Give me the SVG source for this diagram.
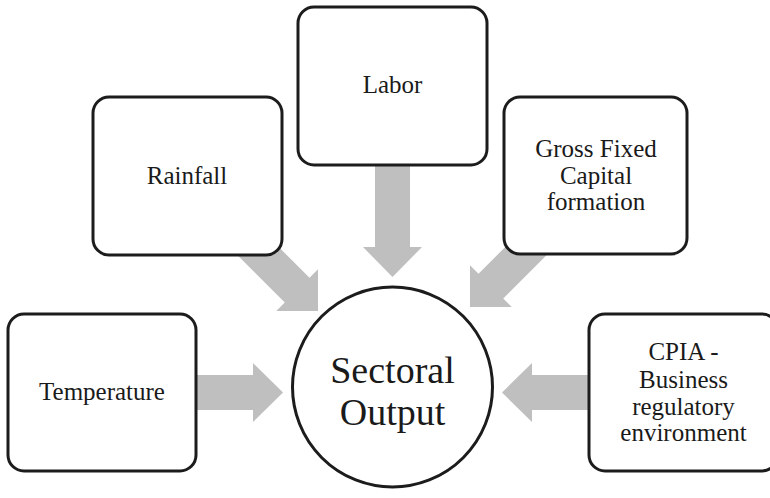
<svg xmlns="http://www.w3.org/2000/svg" width="770" height="498" viewBox="0 0 770 498">
<style>
.box{fill:#fff;stroke:#1c1c1c;stroke-width:3}
.arr{fill:#bebfbe}
text{font-family:"Liberation Serif","Times New Roman",serif;fill:#1a1a1a;text-anchor:middle}
.t{font-size:25px}
.big{font-size:38px}
</style>
<rect width="770" height="498" fill="#fff"/>
<g id="connectors">
<polygon class="arr" transform="translate(283,392.5)" points="-95,-17.5 -30,-17.5 -30,-29.5 0,0 -30,29.5 -30,17.5 -95,17.5"/>
<polygon class="arr" transform="translate(502,392.5) rotate(180)" points="-95,-17.5 -30,-17.5 -30,-29.5 0,0 -30,29.5 -30,17.5 -95,17.5"/>
<polygon class="arr" transform="translate(392.5,277) rotate(90)" points="-120,-17.5 -30,-17.5 -30,-29.5 0,0 -30,29.5 -30,17.5 -120,17.5"/>
<polygon class="arr" transform="translate(318,311) rotate(45)" points="-100,-17.5 -29.5,-17.5 -29.5,-29.5 0,0 -29.5,29.5 -29.5,17.5 -100,17.5"/>
<polygon class="arr" transform="translate(470,307) rotate(135)" points="-100,-17.5 -29.5,-17.5 -29.5,-29.5 0,0 -29.5,29.5 -29.5,17.5 -100,17.5"/>
</g>
<g id="temperature">
<rect class="box" x="8" y="314" width="188" height="157" rx="16"/>
<text class="t" x="102" y="400">Temperature</text>
</g>
<g id="rainfall">
<rect class="box" x="93" y="97" width="189" height="158" rx="16"/>
<text class="t" x="187" y="184">Rainfall</text>
</g>
<g id="labor">
<rect class="box" x="298" y="7" width="189" height="158" rx="16"/>
<text class="t" x="392.5" y="93">Labor</text>
</g>
<g id="gross-fixed-capital">
<rect class="box" x="504" y="97" width="183" height="157" rx="16"/>
<text class="t" x="596" y="157">Gross Fixed</text>
<text class="t" x="596" y="183.5">Capital</text>
<text class="t" x="596" y="210">formation</text>
</g>
<g id="cpia">
<rect class="box" x="589" y="314" width="189" height="157" rx="16"/>
<text class="t" x="683.5" y="360">CPIA -</text>
<text class="t" x="683.5" y="387.5">Business</text>
<text class="t" x="683.5" y="414.5">regulatory</text>
<text class="t" x="683.5" y="441">environment</text>
</g>
<g id="sectoral-output">
<circle class="box" cx="392.5" cy="387" r="100"/>
<text class="big" x="392.5" y="383">Sectoral</text>
<text class="big" x="392.5" y="425">Output</text>
</g>
</svg>
